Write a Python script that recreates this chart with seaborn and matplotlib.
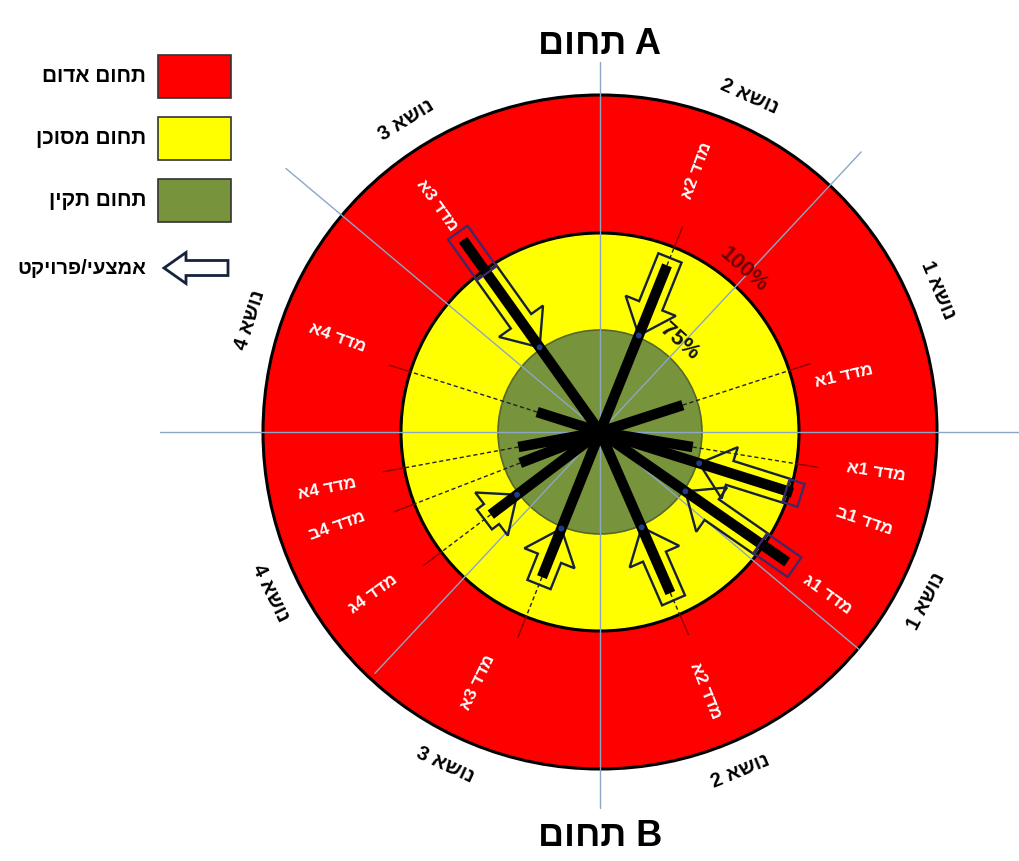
"""Radar-style status diagram: metric spokes over red / yellow / green zones."""
import numpy as np
import pandas as pd
import matplotlib
matplotlib.use('Agg')
import matplotlib.pyplot as plt
from matplotlib.patches import Circle, Polygon, FancyArrow, Rectangle
import seaborn as sns

sns.set_theme(style='white')
plt.rcParams['font.family'] = ['Liberation Sans Narrow', 'Liberation Sans', 'DejaVu Sans']
plt.rcParams['text.color'] = 'black'

# ---- data -------------------------------------------------------------
zone_labels = ['תחום אדום', 'תחום מסוכן', 'תחום תקין']
zone_colors = ['#ff0000', '#ffff00', '#77933c']
arrow_label = 'אמצעי/פרויקט'
domain_word = 'תחום'
domain_letters = ['A', 'B']

topic_labels = ['נושא 1', 'נושא 2', 'נושא 3', 'נושא 4',
                'נושא 1', 'נושא 2', 'נושא 3', 'נושא 4']
topic_angles = [22.8, 66.0, 121.8, 162.3, -27.4, -67.5, -115.0, -153.9]

divider_angles = [0, 47, 90, 140, 180, -40, -90, -133]
divider_reach = [420, 383, 370, 410, 440, 338, 376, 330]

metric_labels = ['מדד 1א', 'מדד 1א', 'מדד 1ב', 'מדד 1ג', 'מדד 2א', 'מדד 3א',
                 'מדד 4ג', 'מדד 4ב', 'מדד 4א', 'מדד 4א', 'מדד 3א', 'מדד 2א']
metric_angles = [18.0, -9.2, -17.5, -34.8, -66.4, -111.8,
                 -142.9, -158.8, -169.6, 162.4, 125.5, 68.1]
metric_scores = [64, 69, 101, 110.5, 94, 89, 84, 63, 61, 48.5, 113.4, 95]
label_angles = [12.9, -8.3, -18.6, -35.6, -67.8, -116.0,
                -144.4, -160.3, -168.3, 160.3, 125.7, 69.7]

# score -> radius (the drawing is not to scale: 75% at green edge, 100% at yellow edge)
scale_scores = [0, 75, 100, 150]
scale_radius = [0, 102, 199, 337]
ring_scores = [150, 100, 75]
tick_labels = ['100%', '75%']

# ---- helpers ------------------------------------------------------------
CX, CY = 600, 432


def rtl(s):
    return s[::-1]


def radius(score):
    return np.interp(score, scale_scores, scale_radius)


def to_xy(angle, r):
    a = np.deg2rad(angle)
    return CX + r * np.cos(a), CY - r * np.sin(a)


fig = plt.figure(figsize=(10.19, 8.61), dpi=100)
ax = fig.add_axes([0, 0, 1, 1])

# zones
edge = ['black', 'black', '#55692a']
for sc, col, ec in zip(ring_scores, zone_colors, edge):
    ax.add_patch(Circle((CX, CY), radius(sc), fc=col, ec=ec,
                        lw=2.2 if ec == 'black' else 1.2, zorder=1))

# sector dividers
for ang, reach in zip(divider_angles, divider_reach):
    x1, y1 = to_xy(ang, reach)
    ax.plot([CX, x1], [CY, y1], color='#8ea6c6', lw=1.0, zorder=2)

r_yellow = radius(100)
r_green = radius(75)
ends = radius(np.array(metric_scores))

# dashed leaders from spoke end to the labels
for ang, r_end, sc in zip(metric_angles, ends, metric_scores):
    if sc > 100:
        continue
    x0, y0 = to_xy(ang, r_end)
    x1, y1 = to_xy(ang, r_yellow)
    ax.plot([x0, x1], [y0, y1], color='#222222', lw=1.0, ls=(0, (3, 2)), zorder=3)
    x2, y2 = to_xy(ang, r_yellow + 22)
    ax.plot([x1, x2], [y1, y2], color='#8b0000', lw=1.0, zorder=3)

# hollow arrows for metrics outside the green zone
tips = []
for ang, r_end, sc in zip(metric_angles, ends, metric_scores):
    if sc <= 75:
        continue
    r_tail = min(r_end + 8, r_yellow - 3)
    r_tip = r_green + 2
    x0, y0 = to_xy(ang, r_tail)
    x1, y1 = to_xy(ang, r_tip)
    ax.add_patch(FancyArrow(x0, y0, x1 - x0, y1 - y0, width=25, head_width=54,
                            head_length=32, length_includes_head=True, fill=False,
                            ec='#16213a', lw=1.7, zorder=4))
    tips.append((x1, y1))

# spokes
rows = []
for i, (ang, r_end) in enumerate(zip(metric_angles, ends)):
    x1, y1 = to_xy(ang, r_end)
    rows.append({'metric': i, 'x': CX, 'y': CY})
    rows.append({'metric': i, 'x': x1, 'y': y1})
spokes = pd.DataFrame(rows)
sns.lineplot(data=spokes, x='x', y='y', units='metric', estimator=None, sort=False,
             color='black', linewidth=7.5, solid_capstyle='butt', legend=False,
             ax=ax, zorder=5)

# boxes around the part of a spoke that lies beyond 100%
for ang, r_end, sc in zip(metric_angles, ends, metric_scores):
    if sc <= 100:
        continue
    a = np.deg2rad(ang)
    ux, uy = np.cos(a), -np.sin(a)
    px, py = -uy, ux
    r0, r1, hw = r_yellow - 4, r_end + 9, 12
    pts = [(CX + r * ux + s * hw * px, CY + r * uy + s * hw * py)
           for r, s in [(r0, -1), (r1, -1), (r1, 1), (r0, 1)]]
    ax.add_patch(Polygon(pts, closed=True, fill=False, ec='#3a2a6a', lw=1.6, zorder=6))

tips = pd.DataFrame(tips, columns=['x', 'y'])
sns.scatterplot(data=tips, x='x', y='y', color='#1f3c88', s=18, edgecolor='none',
                ax=ax, zorder=7, legend=False)

# metric labels in the red ring
for i, (lab, lang) in enumerate(zip(metric_labels, label_angles)):
    r = 250 if i == 0 else 279
    x, y = to_xy(lang, r)
    rot = lang if np.cos(np.deg2rad(lang)) >= 0 else lang + 180
    ax.text(x, y, rtl(lab), color='white', fontsize=12.5, fontweight='bold',
            ha='center', va='center', rotation=rot, rotation_mode='anchor', zorder=8)

# topic labels outside the circle
for lab, ang in zip(topic_labels, topic_angles):
    x, y = to_xy(ang, 367)
    rot = ang - 90 if np.sin(np.deg2rad(ang)) >= 0 else ang + 90
    ax.text(x, y, rtl(lab), color='black', fontsize=14.5, fontweight='bold',
            ha='center', va='center', rotation=rot, rotation_mode='anchor', zorder=8)

# scale labels
for txt, r, col in zip(tick_labels, [217, 120], ['#6e0000', '#141414']):
    x, y = to_xy(48.5, r)
    ax.text(x, y, txt, color=col, fontsize=16, fontweight='bold', ha='center',
            va='center', rotation=48.5 - 90, rotation_mode='anchor', zorder=8)

# domain titles
for letter, y in zip(domain_letters, [45, 836]):
    ax.text(CX, y, rtl(domain_word) + ' ' + letter, fontsize=26, fontweight='bold',
            color='black', ha='center', va='center', zorder=8)

# legend
for i, (lab, col) in enumerate(zip(zone_labels, zone_colors)):
    y_top = 55 + i * 62
    ax.add_patch(Rectangle((158, y_top), 73, 43, fc=col, ec='#333333', lw=1.2, zorder=8))
    ax.text(146, y_top + 21, rtl(lab), fontsize=15, fontweight='bold',
            color='black', ha='right', va='center', zorder=8)
ax.add_patch(FancyArrow(228, 268, -64, 0, width=15, head_width=31, head_length=22,
                        length_includes_head=True, fill=False, ec='#16213a', lw=2.0,
                        zorder=8))
ax.text(146, 268, rtl(arrow_label), fontsize=14.5, fontweight='bold',
        color='black', ha='right', va='center', zorder=8)

ax.set_xlim(0, 1019)
ax.set_ylim(861, 0)
ax.set_axis_off()
fig.savefig('out.png', dpi=100, facecolor='white')
plt.close(fig)
